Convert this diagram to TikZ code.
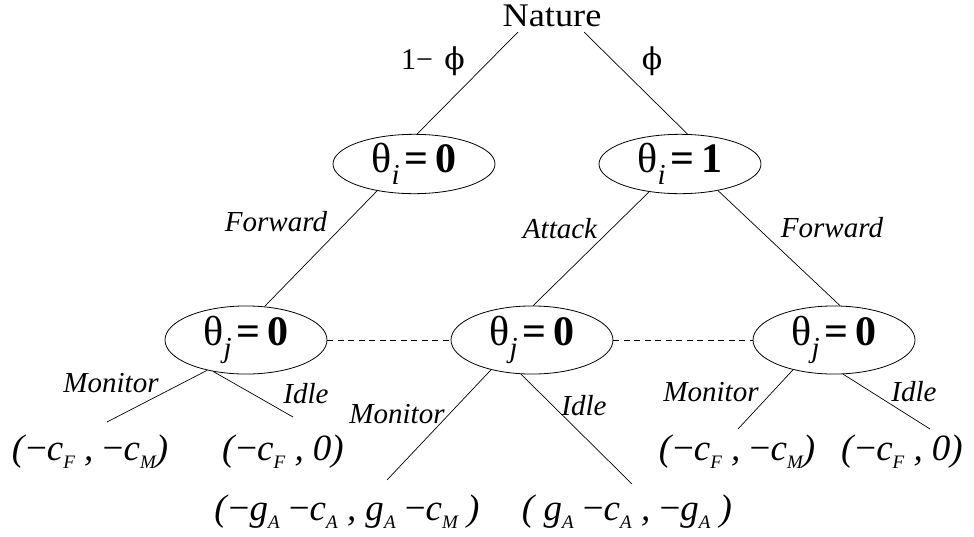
\documentclass[tikz,border=0pt]{standalone}
\usepackage{fontspec}
\setmainfont{Liberation Serif}
\newfontfamily\phifont{DejaVu Serif}
\usetikzlibrary{shapes.geometric,calc}
\newcommand\lsub[1]{\raisebox{-0.2em}{\fontsize{19}{19}\selectfont\itshape #1}}
\newcommand\thlab[2]{\fontsize{42}{46}\selectfont θ\raisebox{-0.3em}{\fontsize{29}{29}\selectfont\itshape #1}\hspace{5pt}\textbf{=}\hspace{7pt}\textbf{#2}}
\begin{document}
\begin{tikzpicture}[x=1pt,y=-1pt,
  state/.style={ellipse,draw,line width=0.8pt,minimum width=162pt,minimum height=58pt,inner sep=0pt},
  edge/.style={line width=0.7pt},
  elab/.style={font=\fontsize{29}{32}\selectfont\itshape,inner sep=0pt},
  leaf/.style={font=\fontsize{37}{40}\selectfont\itshape,inner sep=0pt},
  plab/.style={font=\fontsize{30}{32}\selectfont,inner sep=0pt},
  info/.style={line width=0.7pt,dash pattern=on 6pt off 4.5pt}]
\useasboundingbox (0,0) rectangle (974,536);
\node[font=\fontsize{33}{36}\selectfont, inner sep=0pt, anchor=base] (nat) at (552,26) {\scalebox{1.1}[1]{Nature}};
\node[state] (ti0) at (414,164) {\thlab{i}{0}};
\node[state] (ti1) at (680,164) {\thlab{i}{1}};
\node[state, minimum height=60pt] (tjL) at (246,340) {\thlab{j}{0}};
\node[state, minimum height=60pt] (tjM) at (532,340) {\thlab{j}{0}};
\node[state, minimum height=60pt] (tjR) at (834,340) {\thlab{j}{0}};
\coordinate (natL) at ($(nat.base)+(-34,6)$);
\coordinate (natR) at ($(nat.base)+(32,6)$);
\draw[edge] (natL) -- (ti0.84);
\draw[edge] (natR) -- (ti1.76);
\draw[edge] (ti0.216) -- (tjL.61);
\draw[edge] (ti1.222) -- (tjM.88);
\draw[edge] (ti1.325) -- (tjR.80);
\draw[info] (tjL.east) -- (tjM.west);
\draw[info] (tjM.east) -- (tjR.west);
\node[leaf] (l1) at (90,452) {(\textup{−}c\lsub{F} , \textup{−}c\lsub{M})};
\node[leaf] (l2) at (283,452) {(\textup{−}c\lsub{F} , 0)};
\node[leaf] (l3) at (347,512) {(\textup{−}g\lsub{A} \textup{−}c\lsub{A} , g\lsub{A} \textup{−}c\lsub{M} )};
\node[leaf] (l4) at (627,512) {( g\lsub{A} \textup{−}c\lsub{A} , \textup{−}g\lsub{A} )};
\node[leaf] (l5) at (737,452) {(\textup{−}c\lsub{F} , \textup{−}c\lsub{M})};
\node[leaf] (l6) at (902,452) {(\textup{−}c\lsub{F} , 0)};
\coordinate (e1) at (107,422);
\coordinate (e2) at (293,417);
\coordinate (e3) at (387,480);
\coordinate (e4) at (632,484);
\coordinate (e5) at (738,429);
\coordinate (e6) at (930,429);
\draw[edge] (tjL.218) -- (e1);
\draw[edge] (tjL.224) -- (e2);
\draw[edge] (tjM.216) -- (e3);
\draw[edge] (tjM.252) -- (e4);
\draw[edge] (tjR.216) -- (e5);
\draw[edge] (tjR.285) -- (e6);
\node[elab] (fwL) at (276,222) {Forward};
\node[elab] (att) at (560,229) {Attack};
\node[elab] (fwR) at (832,228) {Forward};
\node[elab] (monL) at (111,383) {Monitor};
\node[elab] (idL) at (306,394) {Idle};
\node[elab] (monM) at (397,414) {Monitor};
\node[elab] (idM) at (584,406) {Idle};
\node[elab] (monR) at (711,392) {Monitor};
\node[elab] (idR) at (914,392) {Idle};
\node[plab] (p1) at (433,61) {1− \hspace{4pt}{\phifont ϕ}};
\node[plab] (p2) at (652,61) {{\phifont ϕ}};
\end{tikzpicture}
\end{document}
